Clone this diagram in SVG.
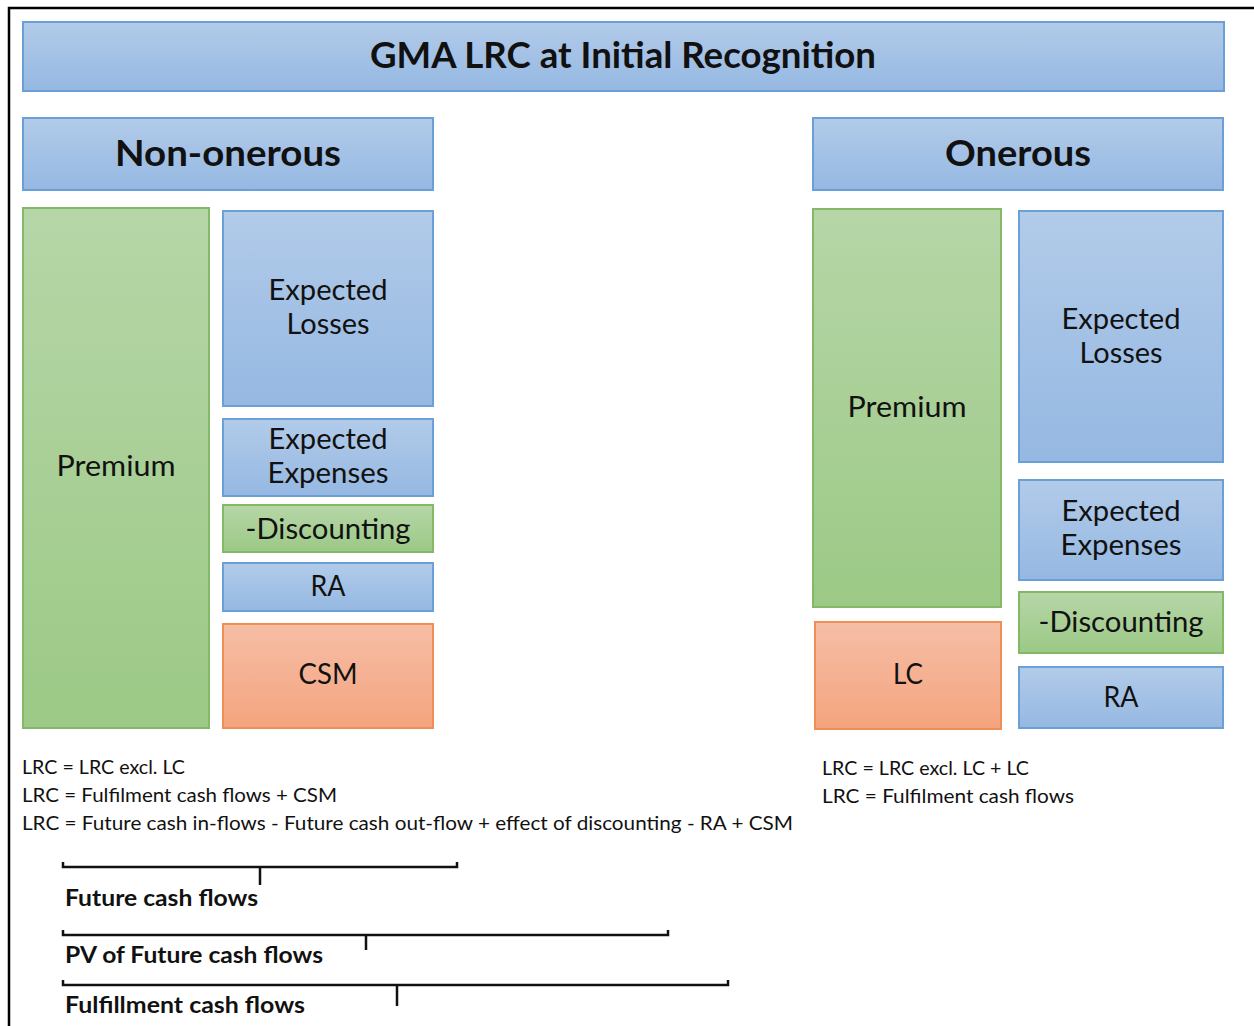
<svg xmlns="http://www.w3.org/2000/svg" width="1254" height="1026" viewBox="0 0 1254 1026">
<defs>
<linearGradient id="gBlue" x1="0" y1="0" x2="0" y2="1"><stop offset="0" stop-color="#b2cbe9"/><stop offset="1" stop-color="#95b8e2"/></linearGradient>
<linearGradient id="gGreen" x1="0" y1="0" x2="0" y2="1"><stop offset="0" stop-color="#b6d6a7"/><stop offset="1" stop-color="#9cc986"/></linearGradient>
<linearGradient id="gOrange" x1="0" y1="0" x2="0" y2="1"><stop offset="0" stop-color="#f6bea6"/><stop offset="1" stop-color="#f4a47e"/></linearGradient>
<style>
.blue{fill:url(#gBlue);stroke:#6b9fd7;stroke-width:2}
.green{fill:url(#gGreen);stroke:#83b866;stroke-width:2}
.orange{fill:url(#gOrange);stroke:#ef8f56;stroke-width:2}
text{font-family:Lato,"Open Sans","Liberation Sans",sans-serif;fill:#111}
.h{font-weight:bold;font-size:36px;text-anchor:middle}
.b{font-size:29px;text-anchor:middle}
.f{font-size:19px}
.l{font-weight:bold;font-size:22px}
.br{fill:none;stroke:#111;stroke-width:2.5}
</style>
</defs>
<rect x="0" y="0" width="1254" height="1026" fill="#fff"/>
<path d="M9,1026 V8 H1254" fill="none" stroke="#000" stroke-width="2.5"/>

<g id="title"><rect class="blue" x="23" y="22" width="1201" height="69"/><text class="h" x="623" y="68" textLength="506" lengthAdjust="spacingAndGlyphs">GMA LRC at Initial Recognition</text></g>
<g id="non-onerous"><rect class="blue" x="23" y="118" width="410" height="72"/><text class="h" x="228" y="166" textLength="226" lengthAdjust="spacingAndGlyphs">Non-onerous</text></g>
<g id="onerous"><rect class="blue" x="813" y="118" width="410" height="72"/><text class="h" x="1018" y="166" textLength="146" lengthAdjust="spacingAndGlyphs">Onerous</text></g>

<g id="premium-left"><rect class="green" x="23" y="208" width="186" height="520"/><text class="b" x="116" y="476" textLength="119" lengthAdjust="spacingAndGlyphs">Premium</text></g>
<g id="losses-left"><rect class="blue" x="223" y="211" width="210" height="195"/><text class="b" x="328" y="300" textLength="119" lengthAdjust="spacingAndGlyphs">Expected</text><text class="b" x="328" y="334" textLength="83" lengthAdjust="spacingAndGlyphs">Losses</text></g>
<g id="expenses-left"><rect class="blue" x="223" y="419" width="210" height="77"/><text class="b" x="328" y="449" textLength="119" lengthAdjust="spacingAndGlyphs">Expected</text><text class="b" x="328" y="483" textLength="121" lengthAdjust="spacingAndGlyphs">Expenses</text></g>
<g id="discount-left"><rect class="green" x="223" y="505" width="210" height="47"/><text class="b" x="328" y="539" textLength="165" lengthAdjust="spacingAndGlyphs">-Discounting</text></g>
<g id="ra-left"><rect class="blue" x="223" y="563" width="210" height="48"/><text class="b" x="328" y="596" textLength="35" lengthAdjust="spacingAndGlyphs">RA</text></g>
<g id="csm"><rect class="orange" x="223" y="624" width="210" height="104"/><text class="b" x="328" y="684" textLength="59" lengthAdjust="spacingAndGlyphs">CSM</text></g>

<g id="premium-right"><rect class="green" x="813" y="209" width="188" height="398"/><text class="b" x="907" y="417" textLength="119" lengthAdjust="spacingAndGlyphs">Premium</text></g>
<g id="losses-right"><rect class="blue" x="1019" y="211" width="204" height="251"/><text class="b" x="1121" y="329" textLength="119" lengthAdjust="spacingAndGlyphs">Expected</text><text class="b" x="1121" y="363" textLength="83" lengthAdjust="spacingAndGlyphs">Losses</text></g>
<g id="expenses-right"><rect class="blue" x="1019" y="480" width="204" height="100"/><text class="b" x="1121" y="521" textLength="119" lengthAdjust="spacingAndGlyphs">Expected</text><text class="b" x="1121" y="555" textLength="121" lengthAdjust="spacingAndGlyphs">Expenses</text></g>
<g id="discount-right"><rect class="green" x="1019" y="592" width="204" height="61"/><text class="b" x="1121" y="632" textLength="165" lengthAdjust="spacingAndGlyphs">-Discounting</text></g>
<g id="lc"><rect class="orange" x="815" y="622" width="186" height="107"/><text class="b" x="908" y="684" textLength="30" lengthAdjust="spacingAndGlyphs">LC</text></g>
<g id="ra-right"><rect class="blue" x="1019" y="667" width="204" height="61"/><text class="b" x="1121" y="707" textLength="35" lengthAdjust="spacingAndGlyphs">RA</text></g>

<g id="formulas-left">
<text class="f" x="22" y="774" textLength="163" lengthAdjust="spacingAndGlyphs">LRC = LRC excl. LC</text>
<text class="f" x="22" y="802" textLength="315" lengthAdjust="spacingAndGlyphs">LRC = Fulfilment cash flows + CSM</text>
<text class="f" x="22" y="830" textLength="771" lengthAdjust="spacingAndGlyphs">LRC = Future cash in-flows - Future cash out-flow + effect of discounting - RA + CSM</text>
</g>
<g id="formulas-right">
<text class="f" x="822" y="775" textLength="207" lengthAdjust="spacingAndGlyphs">LRC = LRC excl. LC + LC</text>
<text class="f" x="822" y="803" textLength="252" lengthAdjust="spacingAndGlyphs">LRC = Fulfilment cash flows</text>
</g>

<g id="connectors">
<path class="br" d="M63,862 V867 H457 V862 M260,867 V885"/>
<path class="br" d="M63,930 V935 H668 V930 M366,935 V950"/>
<path class="br" d="M63,980 V985 H728 V980 M397,985 V1006"/>
</g>
<g id="bracket-labels">
<text class="l" x="65" y="906" textLength="193" lengthAdjust="spacingAndGlyphs">Future cash flows</text>
<text class="l" x="65" y="963" textLength="258" lengthAdjust="spacingAndGlyphs">PV of Future cash flows</text>
<text class="l" x="65" y="1013" textLength="240" lengthAdjust="spacingAndGlyphs">Fulfillment cash flows</text>
</g>
</svg>
